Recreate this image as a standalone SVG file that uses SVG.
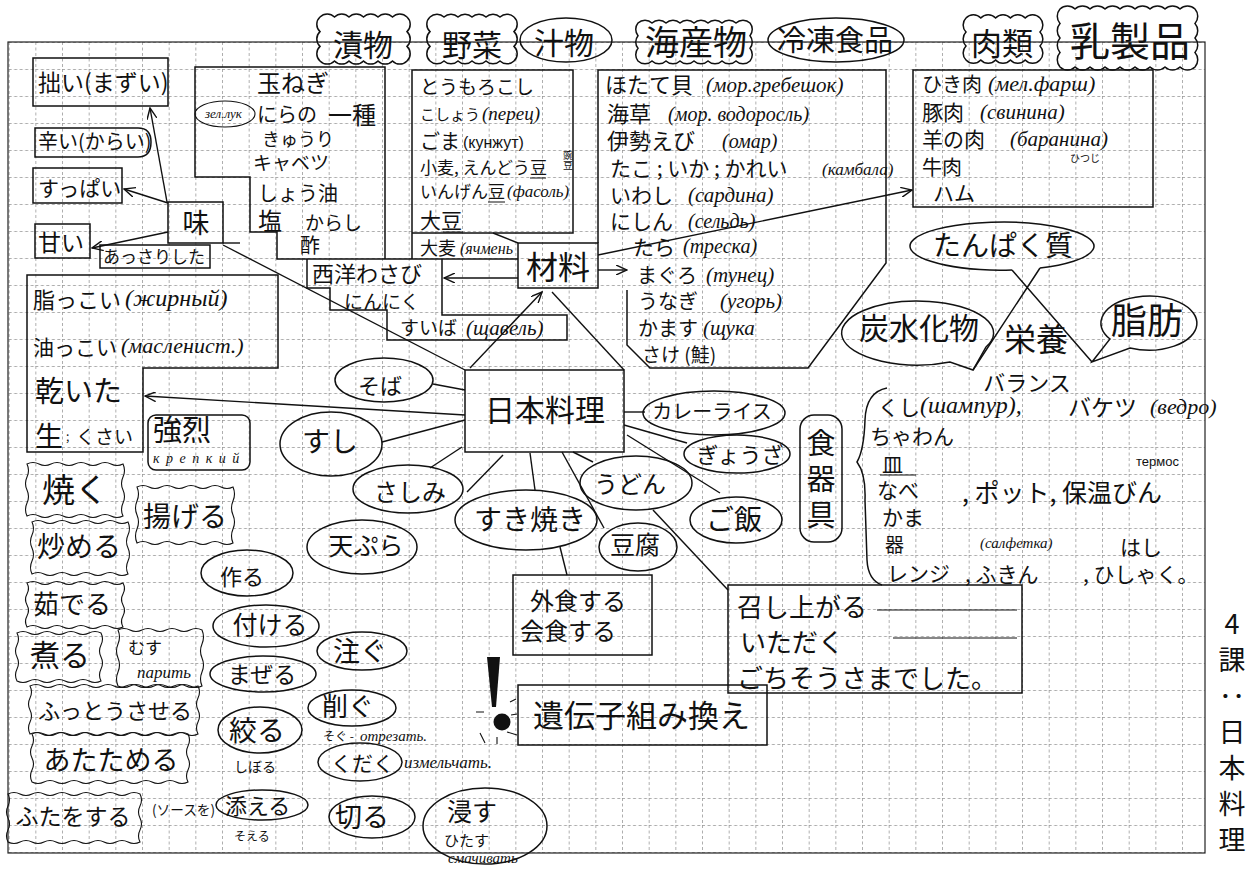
<svg xmlns="http://www.w3.org/2000/svg" width="1252" height="880" viewBox="0 0 1252 880">
<style>
.ln{stroke:#111;stroke-width:1.4;fill:none}
.bx{stroke:#111;stroke-width:1.5;fill:none}
.thin{stroke:#111;stroke-width:1.1;fill:none}
.t{font-family:"Noto Sans CJK JP","Noto Sans",sans-serif;fill:#111}
.ru{font-family:"Liberation Serif",serif;font-style:italic}
.rs{font-family:"Liberation Sans",sans-serif;font-style:normal}
.m{text-anchor:middle}
.v{writing-mode:vertical-rl;text-orientation:upright}
</style>
<defs>
<pattern id="grid" x="8.67" y="42" width="26.667" height="27" patternUnits="userSpaceOnUse">
<path d="M0 0.5 H26.667 M0.5 0 V27" stroke="#9a9a9a" stroke-width="0.8" stroke-dasharray="3 2.5" fill="none"/>
</pattern>
<marker id="ah" viewBox="0 0 12 10" refX="11" refY="5" markerWidth="12" markerHeight="10" markerUnits="userSpaceOnUse" orient="auto">
<path d="M0 0 L11 5 L0 10" fill="none" stroke="#111" stroke-width="1.4"/>
</marker>
</defs>
<rect width="1252" height="880" fill="#fff"/>
<rect x="8" y="42" width="1197" height="811" fill="url(#grid)"/>
<rect x="8" y="42" width="1197" height="811" fill="none" stroke="#222" stroke-width="1.2"/>

<!-- top categories -->
<g id="cat-tsukemono"><path class="bx" d="M320 17 a10 10 0 0 1 14.5 0 a10 10 0 0 1 14.5 0 a10 10 0 0 1 14.5 0 a10 10 0 0 1 14.5 0 a10 10 0 0 1 14.5 0 a10 10 0 0 1 14.5 0 a10 10 0 0 1 0 14.67 a10 10 0 0 1 0 14.67 a10 10 0 0 1 0 14.67 a10 10 0 0 1 -14.5 0 a10 10 0 0 1 -14.5 0 a10 10 0 0 1 -14.5 0 a10 10 0 0 1 -14.5 0 a10 10 0 0 1 -14.5 0 a10 10 0 0 1 -14.5 0 a10 10 0 0 1 0 -14.67 a10 10 0 0 1 0 -14.67 a10 10 0 0 1 0 -14.67 z"/><text class="t m" x="363" y="56" font-size="30">漬物</text></g>
<g id="cat-yasai"><path class="bx" d="M430 17 a10 10 0 0 1 14 0 a10 10 0 0 1 14 0 a10 10 0 0 1 14 0 a10 10 0 0 1 14 0 a10 10 0 0 1 14 0 a10 10 0 0 1 14 0 a10 10 0 0 1 0 14.67 a10 10 0 0 1 0 14.67 a10 10 0 0 1 0 14.67 a10 10 0 0 1 -14 0 a10 10 0 0 1 -14 0 a10 10 0 0 1 -14 0 a10 10 0 0 1 -14 0 a10 10 0 0 1 -14 0 a10 10 0 0 1 -14 0 a10 10 0 0 1 0 -14.67 a10 10 0 0 1 0 -14.67 a10 10 0 0 1 0 -14.67 z"/><text class="t m" x="472" y="56" font-size="30">野菜</text></g>
<g id="cat-shirumono"><ellipse class="bx" cx="566" cy="40" rx="46" ry="22"/><text class="t m" x="564" y="54" font-size="30">汁物</text></g>
<g id="cat-kaisanbutsu"><path class="bx" d="M638 23 a10 10 0 0 1 14 0 a10 10 0 0 1 14 0 a10 10 0 0 1 14 0 a10 10 0 0 1 14 0 a10 10 0 0 1 14 0 a10 10 0 0 1 14 0 a10 10 0 0 1 14 0 a10 10 0 0 1 14 0 a10 10 0 0 1 0 12.67 a10 10 0 0 1 0 12.67 a10 10 0 0 1 0 12.67 a10 10 0 0 1 -14 0 a10 10 0 0 1 -14 0 a10 10 0 0 1 -14 0 a10 10 0 0 1 -14 0 a10 10 0 0 1 -14 0 a10 10 0 0 1 -14 0 a10 10 0 0 1 -14 0 a10 10 0 0 1 -14 0 a10 10 0 0 1 0 -12.67 a10 10 0 0 1 0 -12.67 a10 10 0 0 1 0 -12.67 z"/><text class="t m" x="696" y="55" font-size="34">海産物</text></g>
<g id="cat-reitou"><ellipse class="bx" cx="836" cy="40" rx="68" ry="22"/><text class="t m" x="835" y="51" font-size="29">冷凍食品</text></g>
<g id="cat-nikurui"><path class="bx" d="M966 18 a10 10 0 0 1 14.8 0 a10 10 0 0 1 14.8 0 a10 10 0 0 1 14.8 0 a10 10 0 0 1 14.8 0 a10 10 0 0 1 14.8 0 a10 10 0 0 1 0 14 a10 10 0 0 1 0 14 a10 10 0 0 1 0 14 a10 10 0 0 1 -14.8 0 a10 10 0 0 1 -14.8 0 a10 10 0 0 1 -14.8 0 a10 10 0 0 1 -14.8 0 a10 10 0 0 1 -14.8 0 a10 10 0 0 1 0 -14 a10 10 0 0 1 0 -14 a10 10 0 0 1 0 -14 z"/><text class="t m" x="1002" y="55" font-size="31">肉類</text></g>
<g id="cat-nyuuseihin"><path class="bx" d="M1060 9 a11 11 0 0 1 15 0 a11 11 0 0 1 15 0 a11 11 0 0 1 15 0 a11 11 0 0 1 15 0 a11 11 0 0 1 15 0 a11 11 0 0 1 15 0 a11 11 0 0 1 15 0 a11 11 0 0 1 15 0 a11 11 0 0 1 15 0 a11 11 0 0 1 0 14.5 a11 11 0 0 1 0 14.5 a11 11 0 0 1 0 14.5 a11 11 0 0 1 0 14.5 a11 11 0 0 1 -15 0 a11 11 0 0 1 -15 0 a11 11 0 0 1 -15 0 a11 11 0 0 1 -15 0 a11 11 0 0 1 -15 0 a11 11 0 0 1 -15 0 a11 11 0 0 1 -15 0 a11 11 0 0 1 -15 0 a11 11 0 0 1 -15 0 a11 11 0 0 1 0 -14.5 a11 11 0 0 1 0 -14.5 a11 11 0 0 1 0 -14.5 a11 11 0 0 1 0 -14.5 z"/><text class="t m" x="1130" y="56" font-size="40">乳製品</text></g>

<!-- taste -->
<g id="taste-mazui"><rect class="bx" x="33" y="58" width="135" height="48"/><text class="t" x="38" y="91" font-size="23">拙い(まずい)</text></g>
<g id="taste-karai"><path class="bx" d="M35 128 H138 Q151 128 151 142 Q151 157 138 157 H35 Z"/><text class="t" x="38" y="149" font-size="20">辛い(からい)</text></g>
<g id="taste-suppai"><rect class="bx" x="33" y="168" width="89" height="35"/><text class="t" x="38" y="196" font-size="21">すっぱい</text></g>
<g id="taste-amai"><rect class="bx" x="35" y="224" width="55" height="34"/><text class="t" x="38" y="251" font-size="23">甘い</text></g>
<g id="taste-assari"><rect class="bx" x="100" y="245" width="110" height="23"/><text class="t" x="103" y="263" font-size="17">あっさりした</text></g>
<g id="aji"><rect class="bx" x="168" y="202" width="55" height="41"/><text class="t m" x="196" y="233" font-size="27">味</text></g>

<!-- tsukemono list -->
<g id="list-tsukemono">
<path class="bx" d="M385 259 V67 H195 V177 H250 V232 H277 V259 H518 M307 259 V288 H330 V310 H387 V340 H567 V315 H442 V259"/>
<ellipse class="thin" cx="225" cy="114" rx="30" ry="13"/>
<text class="t"><tspan x="257" y="92" font-size="24">玉ねぎ</tspan><tspan class="ru" x="205" y="118" font-size="13">зел.лук</tspan><tspan x="257" y="122" font-size="20">にらの</tspan><tspan x="328" y="124" font-size="24">一種</tspan><tspan x="262" y="146" font-size="18">きゅうり</tspan><tspan x="253" y="170" font-size="19">キャベツ</tspan><tspan x="258" y="201" font-size="20">しょう油</tspan><tspan x="258" y="230" font-size="24">塩</tspan><tspan x="305" y="230" font-size="19">からし</tspan><tspan x="300" y="253" font-size="20">酢</tspan><tspan x="312" y="282" font-size="22">西洋わさび</tspan><tspan x="344" y="309" font-size="19">にんにく</tspan><tspan x="400" y="335" font-size="19">すいば</tspan><tspan class="ru" x="466" y="335" font-size="21">(щавель)</tspan></text>
</g>

<!-- yasai list -->
<g id="list-yasai">
<path class="bx" d="M412 259 V70 H573 V233 H412"/>
<text class="t"><tspan x="420" y="94" font-size="19">とうもろこし</tspan><tspan x="420" y="120" font-size="15">こしょう</tspan><tspan class="ru" x="482" y="120" font-size="19">(перец)</tspan><tspan x="420" y="149" font-size="20">ごま</tspan><tspan class="rs" x="463" y="148" font-size="16">(кунжут)</tspan><tspan x="420" y="174" font-size="17">小麦, えんどう豆</tspan><tspan x="420" y="198" font-size="17">いんげん豆</tspan><tspan class="ru" x="507" y="197" font-size="17">(фасоль)</tspan><tspan x="420" y="228" font-size="21">大豆</tspan><tspan x="420" y="255" font-size="18">大麦</tspan><tspan class="ru" x="460" y="254" font-size="16">(ячмень</tspan></text>
<text class="t v" x="568" y="150" font-size="10">豌豆</text>
<path class="thin" d="M530 178 H546 M488 202 H505 M443 232 H463"/>
</g>

<!-- zairyou -->
<g id="zairyou"><rect class="bx" x="518" y="243" width="80" height="45"/><text class="t m" x="558" y="279" font-size="32">材料</text></g>

<!-- kaisanbutsu list -->
<g id="list-kaisan">
<path class="bx" d="M598 243 V70 H886 V263 L808 368 H650 L627 345 V290"/>
<text class="t"><tspan x="605" y="93" font-size="22">ほたて貝</tspan><tspan class="ru" x="706" y="92" font-size="21">(мор.гребешок)</tspan><tspan x="607" y="122" font-size="22">海草</tspan><tspan class="ru" x="668" y="121" font-size="20">(мор. водоросль)</tspan><tspan x="607" y="149" font-size="22">伊勢えび</tspan><tspan class="ru" x="722" y="148" font-size="20">(омар)</tspan><tspan x="610" y="176" font-size="21">たこ ; いか ; かれい</tspan><tspan class="ru" x="822" y="175" font-size="17">(камбала)</tspan><tspan x="610" y="203" font-size="21">いわし</tspan><tspan class="ru" x="688" y="202" font-size="21">(сардина)</tspan><tspan x="610" y="229" font-size="21">にしん</tspan><tspan class="ru" x="688" y="228" font-size="20">(сельдь)</tspan><tspan x="633" y="255" font-size="21">たら</tspan><tspan class="ru" x="683" y="253" font-size="20">(треска)</tspan><tspan x="637" y="283" font-size="20">まぐろ</tspan><tspan class="ru" x="706" y="282" font-size="21">(тунец)</tspan><tspan x="638" y="309" font-size="20">うなぎ</tspan><tspan class="ru" x="720" y="308" font-size="21">(угорь)</tspan><tspan x="638" y="336" font-size="20">かます</tspan><tspan class="ru" x="703" y="335" font-size="21">(щука</tspan><tspan x="642" y="362" font-size="19">さけ (鮭)</tspan></text>
</g>

<!-- nikurui list -->
<g id="list-niku">
<rect class="bx" x="913" y="70" width="240" height="137"/>
<text class="t"><tspan x="922" y="92" font-size="20">ひき肉</tspan><tspan class="ru" x="988" y="91" font-size="22">(мел.фарш)</tspan><tspan x="922" y="120" font-size="21">豚肉</tspan><tspan class="ru" x="980" y="119" font-size="21">(свинина)</tspan><tspan x="922" y="147" font-size="21">羊の肉</tspan><tspan class="ru" x="1010" y="146" font-size="21">(баранина)</tspan><tspan x="1070" y="162" font-size="10">ひつじ</tspan><tspan x="922" y="175" font-size="20">牛肉</tspan><tspan x="933" y="201" font-size="21">ハム</tspan></text>
</g>

<!-- nutrition -->
<g id="tanpakushitsu"><path class="bx" d="M1012 270 A92 24 0 1 1 1040 268"/><text class="t m" x="1003" y="256" font-size="28">たんぱく質</text></g>
<g id="eiyou"><path class="bx" d="M1040 268 L973 370 M1012 270 L1092 362"/><text class="t m" x="1036" y="351" font-size="32">栄養</text></g>
<g id="tansuikabutsu"><path class="bx" d="M950 362 A76 32 0 1 1 986 347 L973 370 Z"/><text class="t m" x="919" y="339" font-size="30">炭水化物</text></g>
<g id="shibou"><path class="bx" d="M1130 348 A48 27 0 1 0 1110 339 L1092 362 Z"/><text class="t m" x="1147" y="334" font-size="36">脂肪</text></g>
<g id="balance"><text class="t m" x="1027" y="391" font-size="22">バランス</text></g>

<!-- utensils -->
<g id="kigu"><rect class="bx" x="800" y="415" width="42" height="127" rx="14"/>
<text class="t v" x="821" y="428" font-size="29" letter-spacing="7">食器具</text></g>
<g id="utensils">
<path class="bx" d="M887 388 Q866 392 865 420 Q864 450 857 462 Q866 474 865 500 L867 560 Q868 580 882 585"/>
<path class="thin" d="M880 475 H916"/>
<text class="t"><tspan x="878" y="415" font-size="21">くし</tspan><tspan class="ru" x="920" y="413" font-size="24">(шампур),</tspan><tspan x="1068" y="416" font-size="23">バケツ</tspan><tspan class="ru" x="1150" y="414" font-size="22">(ведро)</tspan><tspan x="870" y="444" font-size="21">ちゃわん</tspan><tspan x="882" y="472" font-size="21">皿</tspan><tspan class="rs" x="1136" y="466" font-size="13">термос</tspan><tspan x="877" y="498" font-size="21">なべ</tspan><tspan x="962" y="502" font-size="25">, ポット, 保温びん</tspan><tspan x="882" y="525" font-size="21">かま</tspan><tspan x="885" y="552" font-size="19">器</tspan><tspan class="ru" x="980" y="548" font-size="15">(салфетка)</tspan><tspan x="1120" y="555" font-size="21">はし</tspan><tspan x="887" y="581" font-size="21">レンジ</tspan><tspan x="965" y="582" font-size="21">, ふきん</tspan><tspan x="1083" y="582" font-size="21">, ひしゃく。</tspan></text>
</g>

<!-- left column -->
<g id="texture">
<path class="bx" d="M27 275 H278 V368 H143 V452 H27 Z"/>
<text class="t"><tspan x="33" y="308" font-size="22">脂っこい</tspan><tspan class="ru" x="125" y="306" font-size="24">(жирный)</tspan><tspan x="33" y="355" font-size="21">油っこい</tspan><tspan class="ru" x="121" y="353" font-size="22">(масленист.)</tspan><tspan x="35" y="402" font-size="29">乾いた</tspan><tspan x="35" y="447" font-size="28">生</tspan><tspan x="66" y="441" font-size="12">;</tspan><tspan x="76" y="444" font-size="19">くさい</tspan></text>
</g>
<g id="kyouretsu"><rect class="bx" x="148" y="415" width="102" height="55" rx="8"/><text class="t"><tspan x="153" y="441" font-size="29">強烈</tspan><tspan class="ru" x="153" y="463" font-size="14" letter-spacing="6.5">крепкий</tspan></text></g>

<g id="yaku"><path class="thin" d="M27 464 q6 -3 12 0 t12 0 t12 0 t12 0 t12 0 t12 0 t12 0 t12 0 q3 6.5 0 13 t0 13 t0 13 t0 13 q-6 3 -12 0 t-12 0 t-12 0 t-12 0 t-12 0 t-12 0 t-12 0 t-12 0 q-3 -6.5 0 -13 t0 -13 t0 -13 t0 -13 z"/><text class="t m" x="75" y="502" font-size="33">焼く</text></g>
<g id="itameru"><path class="thin" d="M32 522 q6 -3 12 0 t12 0 t12 0 t12 0 t12 0 t12 0 t12 0 t12 0 q3 6.5 0 13 t0 13 t0 13 t0 13 q-6 3 -12 0 t-12 0 t-12 0 t-12 0 t-12 0 t-12 0 t-12 0 t-12 0 q-3 -6.5 0 -13 t0 -13 t0 -13 t0 -13 z"/><text class="t m" x="79" y="557" font-size="28">炒める</text></g>
<g id="ageru"><path class="thin" d="M137 487 q6 -3 12 0 t12 0 t12 0 t12 0 t12 0 t12 0 t12 0 t12 0 q3 7 0 14 t0 14 t0 14 t0 14 q-6 3 -12 0 t-12 0 t-12 0 t-12 0 t-12 0 t-12 0 t-12 0 t-12 0 q-3 -7 0 -14 t0 -14 t0 -14 t0 -14 z"/><text class="t m" x="185" y="527" font-size="28">揚げる</text></g>
<g id="yuderu"><path class="thin" d="M27 583 q6 -3 12 0 t12 0 t12 0 t12 0 t12 0 t12 0 t12 0 t12 0 q3 5.5 0 11 t0 11 t0 11 t0 11 q-6 3 -12 0 t-12 0 t-12 0 t-12 0 t-12 0 t-12 0 t-12 0 t-12 0 q-3 -5.5 0 -11 t0 -11 t0 -11 t0 -11 z"/><text class="t m" x="72" y="614" font-size="26">茹でる</text></g>
<g id="niru"><path class="thin" d="M17 633 q6 -3 12 0 t12 0 t12 0 t12 0 t12 0 t12 0 t12 0 q3 6 0 12 t0 12 t0 12 t0 12 q-6 3 -12 0 t-12 0 t-12 0 t-12 0 t-12 0 t-12 0 t-12 0 q-3 -6 0 -12 t0 -12 t0 -12 t0 -12 z"/><text class="t m" x="60" y="666" font-size="30">煮る</text></g>
<g id="musu"><path class="thin" d="M118 630 q6 -3 12 0 t12 0 t12 0 t12 0 t12 0 t12 0 t12 0 q3 7 0 14 t0 14 t0 14 t0 14 q-6 3 -12 0 t-12 0 t-12 0 t-12 0 t-12 0 t-12 0 t-12 0 q-3 -7 0 -14 t0 -14 t0 -14 t0 -14 z"/><text class="t"><tspan x="128" y="654" font-size="17">むす</tspan><tspan class="ru" x="137" y="678" font-size="17">парить</tspan></text></g>
<g id="futtou"><path class="thin" d="M30 686 q6 -3 12 0 t12 0 t12 0 t12 0 t12 0 t12 0 t12 0 t12 0 t12 0 t12 0 t12 0 t12 0 t12 0 t12 0 q3 6 0 12 t0 12 t0 12 t0 12 q-6 3 -12 0 t-12 0 t-12 0 t-12 0 t-12 0 t-12 0 t-12 0 t-12 0 t-12 0 t-12 0 t-12 0 t-12 0 t-12 0 t-12 0 q-3 -6 0 -12 t0 -12 t0 -12 t0 -12 z"/><text class="t m" x="115" y="719" font-size="22">ふっとうさせる</text></g>
<g id="atatameru"><path class="thin" d="M32 734 q6 -3 12 0 t12 0 t12 0 t12 0 t12 0 t12 0 t12 0 t12 0 t12 0 t12 0 t12 0 t12 0 t12 0 q3 6 0 12 t0 12 t0 12 t0 12 q-6 3 -12 0 t-12 0 t-12 0 t-12 0 t-12 0 t-12 0 t-12 0 t-12 0 t-12 0 t-12 0 t-12 0 t-12 0 t-12 0 q-3 -6 0 -12 t0 -12 t0 -12 t0 -12 z"/><text class="t m" x="111" y="770" font-size="27">あたためる</text></g>
<g id="futa"><path class="thin" d="M8 794 q6 -3 12 0 t12 0 t12 0 t12 0 t12 0 t12 0 t12 0 t12 0 t12 0 t12 0 t12 0 q3 6 0 12 t0 12 t0 12 t0 12 q-6 3 -12 0 t-12 0 t-12 0 t-12 0 t-12 0 t-12 0 t-12 0 t-12 0 t-12 0 t-12 0 t-12 0 q-3 -6 0 -12 t0 -12 t0 -12 t0 -12 z"/><text class="t m" x="73" y="825" font-size="23">ふたをする</text></g>
<g id="sauce"><text class="t" x="152" y="815" font-size="14" textLength="63" lengthAdjust="spacingAndGlyphs">(ソースを)</text></g>

<!-- verbs -->
<g id="tsukuru"><ellipse class="bx" cx="247" cy="573" rx="46" ry="23"/><text class="t m" x="242" y="585" font-size="22">作る</text></g>
<g id="tsukeru"><ellipse class="bx" cx="266" cy="626" rx="53" ry="21"/><text class="t m" x="270" y="634" font-size="25">付ける</text></g>
<g id="mazeru"><ellipse class="bx" cx="263" cy="674" rx="53" ry="18"/><text class="t m" x="262" y="683" font-size="23">まぜる</text></g>
<g id="sosogu"><ellipse class="bx" cx="362" cy="651" rx="45" ry="19"/><text class="t m" x="360" y="661" font-size="27">注ぐ</text></g>
<g id="sogu"><ellipse class="bx" cx="352" cy="708" rx="44" ry="18"/><text class="t"><tspan x="322" y="716" font-size="26">削ぐ</tspan><tspan x="323" y="741" font-size="12">そぐ -</tspan><tspan class="ru" x="360" y="741" font-size="15">отрезать.</tspan></text></g>
<g id="shiboru"><ellipse class="bx" cx="260" cy="730" rx="42" ry="23"/><text class="t"><tspan x="229" y="741" font-size="28">絞る</tspan><tspan x="234" y="772" font-size="14">しぼる</tspan></text></g>
<g id="kudaku"><ellipse class="bx" cx="360" cy="762" rx="42" ry="19"/><text class="t"><tspan x="331" y="771" font-size="21">くだく</tspan><tspan class="ru" x="404" y="768" font-size="17">измельчать.</tspan></text></g>
<g id="soeru"><ellipse class="bx" cx="262" cy="805" rx="46" ry="15"/><text class="t"><tspan x="225" y="814" font-size="22">添える</tspan><tspan x="234" y="841" font-size="12">そえる</tspan></text></g>
<g id="kiru"><ellipse class="bx" cx="372" cy="817" rx="43" ry="21"/><text class="t m" x="362" y="827" font-size="27">切る</text></g>
<g id="hitasu"><ellipse class="bx" cx="485" cy="826" rx="62" ry="38"/><text class="t"><tspan x="447" y="821" font-size="25">浸す</tspan><tspan x="444" y="846" font-size="15">ひたす</tspan><tspan class="ru" x="448" y="863" font-size="15">смачивать</tspan></text></g>

<!-- center -->
<g id="nihon-ryouri"><rect class="bx" x="465" y="370" width="159" height="82"/><text class="t m" x="545" y="421" font-size="30">日本料理</text></g>
<g id="soba"><ellipse class="bx" cx="384" cy="380" rx="49" ry="22"/><text class="t m" x="380" y="394" font-size="22">そば</text></g>
<g id="sushi"><ellipse class="bx" cx="331" cy="444" rx="51" ry="32"/><text class="t m" x="330" y="452" font-size="28">すし</text></g>
<g id="sashimi"><ellipse class="bx" cx="408" cy="489" rx="55" ry="24"/><text class="t m" x="410" y="501" font-size="24">さしみ</text></g>
<g id="tenpura"><ellipse class="bx" cx="362" cy="547" rx="55" ry="27"/><text class="t m" x="366" y="555" font-size="25">天ぷら</text></g>
<g id="sukiyaki"><ellipse class="bx" cx="526" cy="520" rx="71" ry="30"/><text class="t m" x="530" y="530" font-size="28">すき焼き</text></g>
<g id="toufu"><ellipse class="bx" cx="638" cy="547" rx="39" ry="24"/><text class="t m" x="635" y="554" font-size="25">豆腐</text></g>
<g id="udon"><ellipse class="bx" cx="636" cy="483" rx="56" ry="27"/><text class="t m" x="630" y="493" font-size="24">うどん</text></g>
<g id="gohan"><ellipse class="bx" cx="736" cy="520" rx="46" ry="23"/><text class="t m" x="734" y="530" font-size="28">ご飯</text></g>
<g id="gyouza"><ellipse class="bx" cx="737" cy="454" rx="53" ry="19"/><text class="t m" x="740" y="463" font-size="22">ぎょうざ</text></g>
<g id="curry"><ellipse class="bx" cx="714" cy="413" rx="71" ry="22"/><text class="t m" x="712" y="419" font-size="20">カレーライス</text></g>

<g id="gaishoku"><rect class="bx" x="513" y="575" width="139" height="80"/><text class="t"><tspan x="530" y="610" font-size="24">外食する</tspan><tspan x="520" y="640" font-size="24">会食する</tspan></text></g>
<g id="idenshi"><rect class="bx" x="518" y="685" width="249" height="60"/><text class="t" x="533" y="727" font-size="31">遺伝子組み換え</text></g>
<g id="exclaim"><path d="M487 657 L500 657 L496 707 L492 707 Z" fill="#111"/><circle cx="502" cy="722" r="8.5" fill="#111"/><path class="thin" d="M480 733 L485 743 M497 737 V744 M507 732 L517 735 M511 715 L517 714 M510 702 L516 699 M476 712 H484"/></g>
<g id="meshiagaru"><rect class="bx" x="728" y="585" width="294" height="108"/><text class="t" font-size="26"><tspan x="737" y="617">召し上がる</tspan><tspan x="740" y="652">いただく</tspan><tspan x="737" y="688">ごちそうさまでした。</tspan></text><path class="thin" d="M877 610 H1017 M893 638 H1017"/></g>

<g id="title"><text class="t v" x="1232" y="610" font-size="27" letter-spacing="9" fill="#222">4課：日本料理</text></g>

<!-- connectors -->
<g id="connectors" class="ln">
<path d="M167 202 L150 108" marker-end="url(#ah)"/>
<path d="M168 203 L124 189" marker-end="url(#ah)"/>
<path d="M168 232 L92 248" marker-end="url(#ah)"/>
<path d="M223 243 H240"/>
<path d="M223 245 L465 370"/>
<path d="M493 233 L518 243"/>
<path d="M518 278 L444 278" marker-end="url(#ah)"/>
<path d="M598 270 L627 270" marker-end="url(#ah)"/>
<path d="M598 255 L912 190" marker-end="url(#ah)"/>
<path d="M470 368 L542 292" marker-end="url(#ah)"/>
<path d="M624 370 L552 292"/>
<path d="M465 415 L145 396" marker-end="url(#ah)"/>
<path d="M433 384 L465 390"/>
<path d="M382 442 L465 420"/>
<path d="M430 468 L462 447"/>
<path d="M467 492 L503 455"/>
<path d="M535 490 L530 453"/>
<path d="M562 452 L604 528"/>
<path d="M573 452 L593 462"/>
<path d="M627 435 L720 493"/>
<path d="M624 425 L687 443"/>
<path d="M624 412 L645 412"/>
<path d="M653 510 L728 590"/>
<path d="M560 547 L567 575"/>
</g>
</svg>
